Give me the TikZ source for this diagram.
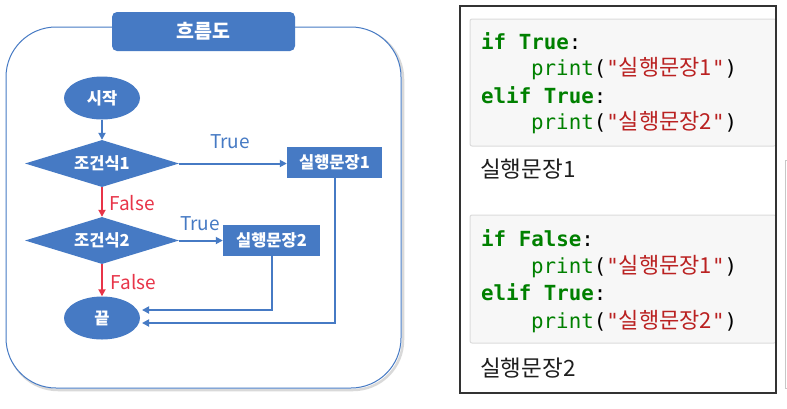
\documentclass[tikz,border=0pt]{standalone}
\usepackage{fontspec}
\usetikzlibrary{shapes.geometric,arrows.meta}
\newfontfamily\kr{Noto Sans CJK KR}
\newfontfamily\mono{DejaVu Sans Mono}
\definecolor{fcblue}{RGB}{70,122,196}
\definecolor{fcred}{RGB}{232,52,72}
\definecolor{kwgreen}{RGB}{0,128,0}
\definecolor{strred}{RGB}{186,33,33}
\definecolor{cellgray}{RGB}{247,247,247}
\definecolor{cellborder}{RGB}{220,220,220}
\definecolor{outtext}{RGB}{30,30,30}
\newcommand\kw[1]{{\bfseries\color{kwgreen}#1}}
\newcommand\krstr[1]{{\color{strred}"{\kr\fontsize{22}{22}\selectfont #1}"}}
\tikzset{
  fcnode/.style={fill=fcblue,draw=none,text=white,inner sep=0pt,font=\kr\bfseries\fontsize{16.5}{16.5}\selectfont},
  startend/.style={fcnode,ellipse,minimum width=76pt,minimum height=43pt},
  decision/.style={fcnode,diamond,minimum width=154pt,minimum height=47pt,aspect=3.3},
  process/.style={fcnode,rectangle,minimum height=31pt},
  flow/.style={draw=fcblue,line width=2pt,-{Triangle[length=7pt,width=7pt]}},
  falseflow/.style={draw=fcred,line width=2pt,-{Triangle[length=7pt,width=7pt]}},
  truelbl/.style={text=fcblue,inner sep=0pt,font=\kr\fontsize{19}{19}\selectfont},
  falselbl/.style={text=fcred,inner sep=0pt,font=\kr\fontsize{19}{19}\selectfont},
  codeline/.style={anchor=base west,inner sep=0pt,font=\mono\fontsize{20.8}{20.8}\selectfont},
  outline/.style={anchor=base west,inner sep=0pt,text=outtext,font=\kr\fontsize{22.5}{22.5}\selectfont},
  cell/.style={fill=cellgray,draw=cellborder,line width=1pt,rounded corners=2pt},
}
\begin{document}
\begin{tikzpicture}[x=1pt,y=-1pt]
\useasboundingbox (0,0) rectangle (787,408);
\fill[white] (0,0) rectangle (787,408);
% ---------------- left panel ----------------
\draw[black!15,line width=2.5pt,rounded corners=50pt] (8,29) rectangle (403,390);
\draw[fcblue,fill=white,line width=1pt,rounded corners=50pt] (6,27) rectangle (401,388);
\node[fill=fcblue,rounded corners=5pt,minimum width=183pt,minimum height=39pt,inner sep=0pt,text=white,font=\kr\bfseries\fontsize{19.5}{19.5}\selectfont] (title) at (203.5,31.5) {흐름도};

\node[startend] (start) at (102,98) {시작};
\node[decision] (d1) at (102,163.5) {조건식1};
\node[decision] (d2) at (102,240.5) {조건식2};
\node[startend] (end) at (102,318) {끝};
\node[process,minimum width=95pt] (p1) at (334.5,162.5) {실행문장1};
\node[process,minimum width=97pt] (p2) at (271.5,240.5) {실행문장2};

\draw[flow] (start) -- (d1);
\draw[flow] (d1.east) -- (p1.west |- d1.east);
\draw[flow] (d2.east) -- (p2.west |- d2.east);
\draw[falseflow] (d1) -- (d2);
\draw[falseflow] (d2) -- (end);
\coordinate (e1) at (142,310);
\coordinate (e2) at (142,323);
\draw[flow] (p2.south) |- (e1);
\draw[flow] (p1.south) |- (e2);

\node[truelbl] (t1) at (230,142) {True};
\node[truelbl] (t2) at (200,224) {True};
\node[falselbl] (f1) at (132,203) {False};
\node[falselbl] (f2) at (133.5,282) {False};

% ---------------- right panel ----------------
\draw[cell] (470,19) rectangle (776,146);
\draw[cell] (470,215) rectangle (776,343);

\node[codeline] (a1) at (481,49.5) {\kw{if True}:};
\node[codeline] (a2) at (531,75.5) {{\color{kwgreen}print}(\krstr{실행문장1})};
\node[codeline] (a3) at (481,103.5) {\kw{elif True}:};
\node[codeline] (a4) at (531,129.5) {{\color{kwgreen}print}(\krstr{실행문장2})};
\node[outline] (o1) at (480,177) {실행문장1};

\node[codeline] (b1) at (481,246.5) {\kw{if False}:};
\node[codeline] (b2) at (531,273.5) {{\color{kwgreen}print}(\krstr{실행문장1})};
\node[codeline] (b3) at (481,300.5) {\kw{elif True}:};
\node[codeline] (b4) at (531,328.5) {{\color{kwgreen}print}(\krstr{실행문장2})};
\node[outline] (o2) at (480,376) {실행문장2};

\draw[black!80,line width=1.3pt] (460,6) rectangle (776,393);
\draw[black!22,line width=1pt] (788,160) -- (785.5,160) -- (785.5,388) -- (788,388);
\end{tikzpicture}
\end{document}
